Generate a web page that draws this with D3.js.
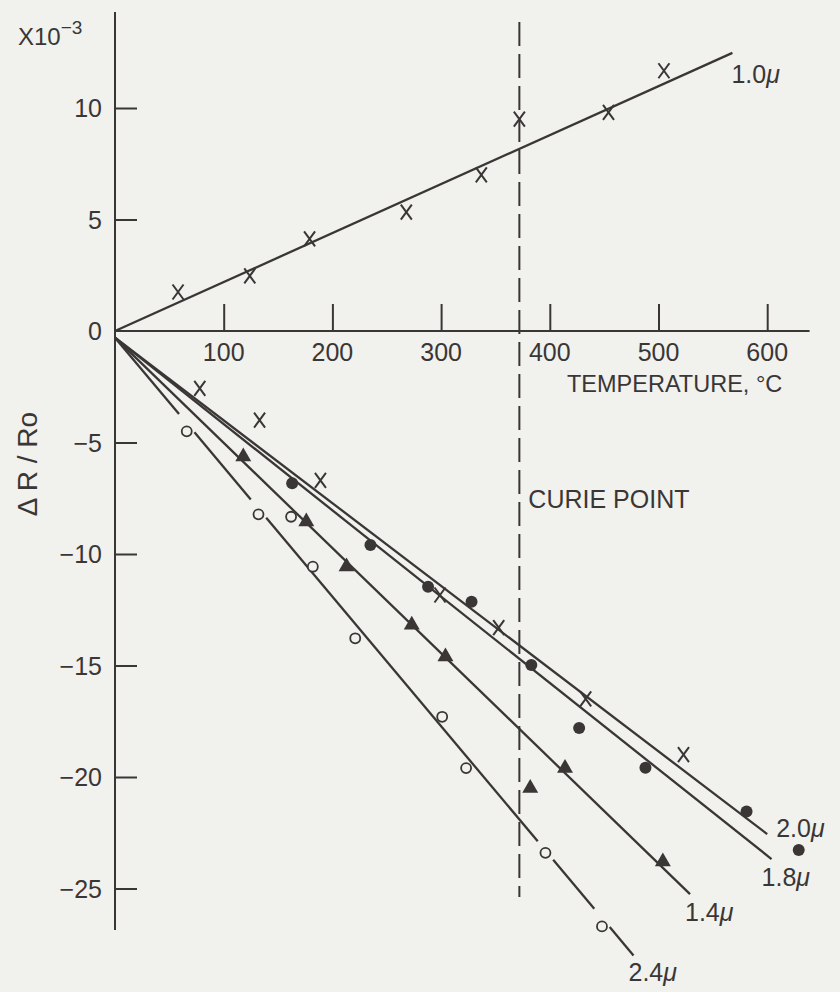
<!DOCTYPE html>
<html>
<head>
<meta charset="utf-8">
<script src="https://cdn.jsdelivr.net/npm/d3@7"></script>
<style>
  body { margin: 0; background: #f1f1ed; }
  svg { display: block; }
  text { font-family: "Liberation Sans", Arial, sans-serif; fill: #3b3636; }
</style>
</head>
<body>
<script>
'use strict';

// axis values
const tempTicks = [100, 200, 300, 400, 500, 600];
const ratioTicks = [10, 5, 0, -5, -10, -15, -20, -25];
const curieTemp = 372;

// 1.0 micron: fit line + crosses (above zero)
const fit10 = [[0, 0], [568, 12.47]];
const pts10 = [[58, 1.75], [124, 2.47], [179, 4.13], [268, 5.33], [337, 7.0], [372, 9.5], [454, 9.8], [505, 11.67]];

// 2.0 micron: fit line + crosses
const fit20 = [[0, -0.3], [600, -22.56]];
const pts20 = [[78, -2.57], [133, -4.0], [189, -6.7], [299, -11.84], [353, -13.3], [433, -16.5], [523, -19.0]];

// 1.8 micron: fit line + filled circles
const fit18 = [[0, -0.3], [604, -23.68]];
const pts18 = [[163, -6.83], [235, -9.6], [288, -11.47], [328, -12.14], [383, -14.98], [427, -17.8], [488, -19.58], [581, -21.55], [629, -23.27]];

// 1.4 micron: fit line + filled triangles
const fit14 = [[0, -0.3], [529, -25.25]];
const pts14 = [[118, -5.64], [176, -8.55], [213, -10.57], [273, -13.18], [304, -14.6], [382, -20.5], [414, -19.6], [504, -23.8]];

// 2.4 micron: fit line + open circles, line broken around some points
const fit24 = [[0, -0.3], [477, -28.0]];
const pts24 = [[66, -4.5], [132, -8.22], [162, -8.33], [182, -10.57], [221, -13.78], [301, -17.3], [323, -19.6], [396, -23.4], [448, -26.7]];
const gaps24 = [66, 132, 396, 448];

const lineLabels = ["1.0", "2.0", "1.8", "1.4", "2.4"];

(function () {
  const W = 840, H = 992;
  const ink = "#3b3636";

  const svg = d3.select("body").append("svg")
    .attr("width", W)
    .attr("height", H);

  const x = d3.scaleLinear().domain([0, 600]).range([115, 767.2]);
  const y = d3.scaleLinear().domain([0, -25]).range([331, 888.5]);

  // y axis line + ticks (ticks point right)
  svg.append("line")
    .attr("x1", x(0)).attr("x2", x(0))
    .attr("y1", 12).attr("y2", 930)
    .attr("stroke", ink).attr("stroke-width", 2);

  const yAxis = d3.axisRight(y)
    .tickValues(ratioTicks.filter(d => d !== 0))
    .tickSize(22)
    .tickFormat("");
  const gy = svg.append("g")
    .attr("transform", "translate(" + x(0) + ",0)")
    .call(yAxis);
  gy.select(".domain").remove();
  gy.selectAll(".tick line").attr("stroke", ink).attr("stroke-width", 2);

  svg.selectAll(".ylab")
    .data(ratioTicks)
    .enter()
    .append("text")
    .attr("class", "ylab")
    .attr("x", 102)
    .attr("y", d => y(d) + 9)
    .attr("text-anchor", "end")
    .style("font-size", "25px")
    .text(d => d < 0 ? "\u2212" + Math.abs(d) : d);

  // x axis line + ticks (ticks point up)
  svg.append("line")
    .attr("x1", x(0)).attr("x2", x(639))
    .attr("y1", y(0)).attr("y2", y(0))
    .attr("stroke", ink).attr("stroke-width", 2);

  const xAxis = d3.axisTop(x)
    .tickValues(tempTicks)
    .tickSize(27)
    .tickFormat("");
  const gx = svg.append("g")
    .attr("transform", "translate(0," + y(0) + ")")
    .call(xAxis);
  gx.select(".domain").remove();
  gx.selectAll(".tick line").attr("stroke", ink).attr("stroke-width", 2);

  svg.selectAll(".xlab")
    .data(tempTicks)
    .enter()
    .append("text")
    .attr("class", "xlab")
    .attr("x", d => x(d))
    .attr("y", y(0) + 30)
    .attr("text-anchor", "middle")
    .style("font-size", "25px")
    .text(d => d);

  svg.append("text")
    .attr("x", 567)
    .attr("y", 392)
    .style("font-size", "23.5px")
    .text("TEMPERATURE, \u00B0C");

  // y label
  svg.append("text")
    .attr("transform", "translate(37, 464)rotate(-90)")
    .attr("text-anchor", "middle")
    .style("font-size", "28px")
    .text("\u0394 R / Ro");

  // multiplier
  const mult = svg.append("text")
    .attr("x", 18)
    .attr("y", 45)
    .style("font-size", "24px");
  mult.append("tspan").text("X10");
  mult.append("tspan").attr("dy", -11).style("font-size", "19px").text("\u22123");

  // Curie point
  svg.append("line")
    .attr("x1", x(curieTemp)).attr("x2", x(curieTemp))
    .attr("y1", 22).attr("y2", 897)
    .attr("stroke", ink).attr("stroke-width", 2)
    .attr("stroke-dasharray", "24,8");

  svg.append("text")
    .attr("x", x(curieTemp) + 9)
    .attr("y", 508)
    .style("font-size", "25px")
    .text("CURIE POINT");

  // fit lines
  const line = d3.line().x(d => x(d[0])).y(d => y(d[1]));
  [fit10, fit20, fit18, fit14].forEach(f => {
    svg.append("path")
      .datum(f)
      .attr("d", line)
      .attr("fill", "none")
      .attr("stroke", ink)
      .attr("stroke-width", 2.3);
  });

  // 2.4 line, broken around some circles
  (function () {
    const p0 = [x(fit24[0][0]), y(fit24[0][1])];
    const p1 = [x(fit24[1][0]), y(fit24[1][1])];
    const len = Math.hypot(p1[0] - p0[0], p1[1] - p0[1]);
    const ux = (p1[0] - p0[0]) / len, uy = (p1[1] - p0[1]) / len;
    const gapHalf = 12;
    const cuts = gaps24.map(t => (x(t) - p0[0]) / ux).sort((a, b) => a - b);
    let segs = [];
    let s = 0;
    cuts.forEach(c => {
      segs.push([s, c - gapHalf]);
      s = c + gapHalf;
    });
    segs.push([s, len]);
    segs = segs.filter(d => d[1] > d[0]);
    svg.selectAll(".seg24")
      .data(segs)
      .enter()
      .append("line")
      .attr("class", "seg24")
      .attr("x1", d => p0[0] + ux * d[0])
      .attr("y1", d => p0[1] + uy * d[0])
      .attr("x2", d => p0[0] + ux * d[1])
      .attr("y2", d => p0[1] + uy * d[1])
      .attr("stroke", ink)
      .attr("stroke-width", 2.3);
  })();

  // markers
  function crosses(pts) {
    svg.append("g").selectAll("path")
      .data(pts)
      .enter()
      .append("path")
      .attr("transform", d => "translate(" + x(d[0]) + "," + y(d[1]) + ")")
      .attr("d", "M-5.5,-7.5L5.5,7.5M5.5,-7.5L-5.5,7.5")
      .attr("stroke", ink)
      .attr("stroke-width", 2)
      .attr("fill", "none");
  }
  crosses(pts10);
  crosses(pts20);

  svg.append("g").selectAll("circle")
    .data(pts18)
    .enter()
    .append("circle")
    .attr("cx", d => x(d[0]))
    .attr("cy", d => y(d[1]))
    .attr("r", 6)
    .attr("fill", ink);

  svg.append("g").selectAll("path")
    .data(pts14)
    .enter()
    .append("path")
    .attr("transform", d => "translate(" + x(d[0]) + "," + y(d[1]) + ")")
    .attr("d", d3.symbol().type(d3.symbolTriangle).size(110))
    .attr("fill", ink);

  svg.append("g").selectAll("circle")
    .data(pts24)
    .enter()
    .append("circle")
    .attr("cx", d => x(d[0]))
    .attr("cy", d => y(d[1]))
    .attr("r", 5)
    .attr("fill", "#f1f1ed")
    .attr("stroke", ink)
    .attr("stroke-width", 1.8);

  // line labels, placed near line ends
  const fits = [fit10, fit20, fit18, fit14, fit24];
  const offsets = [[-1, 30], [9, 3], [-10, 27], [-5, 27], [-5, 26]];
  lineLabels.forEach((lab, i) => {
    const end = fits[i][1];
    const t = svg.append("text")
      .attr("x", x(end[0]) + offsets[i][0])
      .attr("y", y(end[1]) + offsets[i][1])
      .style("font-size", "25px");
    t.append("tspan").text(lab);
    t.append("tspan").style("font-style", "italic").text("\u03BC");
  });
})();
</script>
</body>
</html>
